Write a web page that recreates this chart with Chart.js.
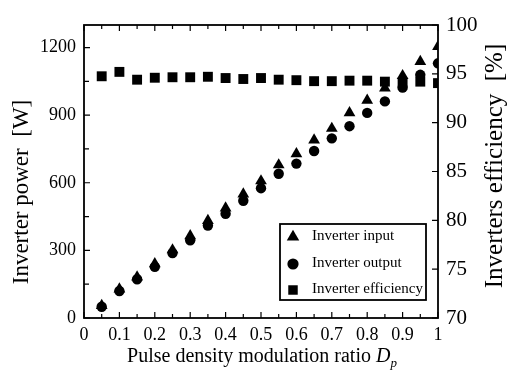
<!DOCTYPE html>
<html><head><meta charset="utf-8">
<script src="https://cdn.jsdelivr.net/npm/chart.js@4/dist/chart.umd.min.js"></script>
<style>html,body{margin:0;padding:0;background:#fff}#wrap{width:512px;height:374px;position:relative}</style>
</head><body><div id="wrap"><canvas id="c" width="512" height="374"></canvas></div>
<script>
const ratio = [0.05,0.1,0.15,0.2,0.25,0.3,0.35,0.4,0.45,0.5,0.55,0.6,0.65,0.7,0.75,0.8,0.85,0.9,0.95,1.0];
const inputPower = [55,128,182,240,302,365,432,488,550,608,679,728,789,841,910,966,1020,1075,1138,1204];
const outputPower = [50,120,172,227,288,345,410,462,520,576,640,685,741,797,851,910,961,1022,1079,1130];
const efficiency = [94.75,95.2,94.4,94.6,94.65,94.65,94.7,94.57,94.47,94.57,94.4,94.35,94.25,94.25,94.3,94.3,94.2,94.1,94.2,94.05];
const xTicks = [0,0.1,0.2,0.3,0.4,0.5,0.6,0.7,0.8,0.9,1];
const powerTicks = [0,300,600,900,1200];
const effTicks = [70,75,80,85,90,95,100];
const seriesNames = ['Inverter input','Inverter output','Inverter efficiency'];
const titles = {x:'Pulse density modulation ratio ', xVar:'D', xSub:'p', y:'Inverter power  [W]', y2:'Inverters efficiency  [%]'};

const FONT = "'Liberation Serif','DejaVu Serif',serif";
const pts = (ys) => ratio.map((x,i)=>({x:x,y:ys[i]}));

function midpoints(a){const m=[];for(let i=0;i<a.length-1;i++)m.push((a[i]+a[i+1])/2);return m;}

const framePlugin = {
  id:'frame',
  afterDraw(chart){
    const ctx=chart.ctx, a=chart.chartArea;
    const sx=chart.scales.x, sy=chart.scales.y, sy2=chart.scales.y2;
    ctx.save();
    ctx.strokeStyle='#000'; ctx.lineWidth=1.8;
    ctx.strokeRect(a.left,a.top,a.right-a.left,a.bottom-a.top);
    ctx.lineWidth=1.2;
    ctx.beginPath();
    const tx=(v,len)=>{const p=sx.getPixelForValue(v);ctx.moveTo(p,a.bottom);ctx.lineTo(p,a.bottom-len);ctx.moveTo(p,a.top);ctx.lineTo(p,a.top+len);};
    xTicks.forEach(v=>tx(v,6)); midpoints(xTicks).forEach(v=>tx(v,4));
    const ty=(v,len)=>{const p=sy.getPixelForValue(v);ctx.moveTo(a.left,p);ctx.lineTo(a.left+len,p);};
    powerTicks.forEach(v=>ty(v,6)); midpoints(powerTicks).forEach(v=>ty(v,5));
    effTicks.forEach(v=>{const p=sy2.getPixelForValue(v);ctx.moveTo(a.right,p);ctx.lineTo(a.right-6,p);});
    ctx.stroke();

    ctx.fillStyle='#000'; ctx.textBaseline='alphabetic';
    // x-axis title with italic D and subscript p
    ctx.font="20px "+FONT; const w1=ctx.measureText(titles.x).width;
    ctx.font="italic 20px "+FONT; const w2=ctx.measureText(titles.xVar).width;
    ctx.font="italic 13px "+FONT; const w3=ctx.measureText(titles.xSub).width;
    const cx=(a.left+a.right)/2, tot=w1+w2+w3; let x0=cx-tot/2+1; const yb=a.bottom+44;
    ctx.textAlign='left';
    ctx.font="20px "+FONT; ctx.fillText(titles.x,x0,yb);
    ctx.font="italic 20px "+FONT; ctx.fillText(titles.xVar,x0+w1,yb);
    ctx.font="italic 13px "+FONT; ctx.fillText(titles.xSub,x0+w1+w2,yb+5);

    // vertical titles, both reading bottom-to-top
    ctx.textAlign='center'; ctx.textBaseline='middle';
    ctx.save(); ctx.translate(22,a.top+167); ctx.rotate(-Math.PI/2);
    ctx.font="23px "+FONT; ctx.fillText(titles.y,0,0); ctx.restore();
    ctx.save(); ctx.translate(a.right+57,a.top+141); ctx.rotate(-Math.PI/2);
    ctx.font="25px "+FONT; ctx.fillText(titles.y2,0,0); ctx.restore();

    // legend box
    const L=a.left+196, T=a.top+199, R=a.right-12, B=a.bottom-18;
    ctx.fillStyle='#fff'; ctx.fillRect(L,T,R-L,B-T);
    ctx.lineWidth=1.8; ctx.strokeRect(L,T,R-L,B-T);
    const rows=[T+12,T+39,T+65];
    const styles=[['triangle',7.2],['circle',5.6],['rect',6.7]];
    ctx.textAlign='left';
    rows.forEach((yy,i)=>{
      ctx.fillStyle='#000';
      Chart.helpers.drawPoint(ctx,{pointStyle:styles[i][0],radius:styles[i][1],borderWidth:0},L+13,yy+1);
      ctx.fillStyle='#000'; ctx.font="15px "+FONT; ctx.textBaseline='middle';
      ctx.fillText(seriesNames[i],L+32,yy);
    });
    ctx.restore();
  }
};

new Chart(document.getElementById('c'),{
  type:'scatter',
  data:{datasets:[
    {label:seriesNames[2],data:pts(efficiency),yAxisID:'y2',pointStyle:'rect',pointRadius:7,backgroundColor:'#000',borderColor:'#000',borderWidth:0},
    {label:seriesNames[1],data:pts(outputPower),yAxisID:'y',pointStyle:'circle',pointRadius:5.2,backgroundColor:'#000',borderColor:'#000',borderWidth:0},
    {label:seriesNames[0],data:pts(inputPower),yAxisID:'y',pointStyle:'triangle',pointRadius:6.8,backgroundColor:'#000',borderColor:'#000',borderWidth:0}
  ]},
  options:{
    responsive:false, animation:false, devicePixelRatio:1,
    layout:{padding:{top:25,left:0,right:0,bottom:0}},
    plugins:{legend:{display:false},tooltip:{enabled:false}},
    elements:{point:{hoverRadius:0}},
    scales:{
      x:{type:'linear',min:0,max:1,position:'bottom',
        afterBuildTicks:s=>{s.ticks=xTicks.map(v=>({value:v}));},
        afterFit:s=>{s.height=56;},
        grid:{display:false,drawTicks:false},border:{display:false},
        ticks:{padding:6,color:'#000',font:{family:FONT,size:18},maxRotation:0,autoSkip:false,callback:v=>String(v)}},
      y:{type:'linear',min:0,max:1300,position:'left',
        afterBuildTicks:s=>{s.ticks=powerTicks.map(v=>({value:v}));},
        afterFit:s=>{s.width=84;},
        grid:{display:false,drawTicks:false},border:{display:false},
        ticks:{padding:8,color:'#000',font:{family:FONT,size:18},callback:v=>String(v)}},
      y2:{type:'linear',min:70,max:100,position:'right',
        afterBuildTicks:s=>{s.ticks=effTicks.map(v=>({value:v}));},
        afterFit:s=>{s.width=74;},
        grid:{display:false,drawTicks:false},border:{display:false},
        ticks:{padding:8,color:'#000',font:{family:FONT,size:21},callback:v=>String(v)}}
    }
  },
  plugins:[framePlugin]
});
</script></body></html>
